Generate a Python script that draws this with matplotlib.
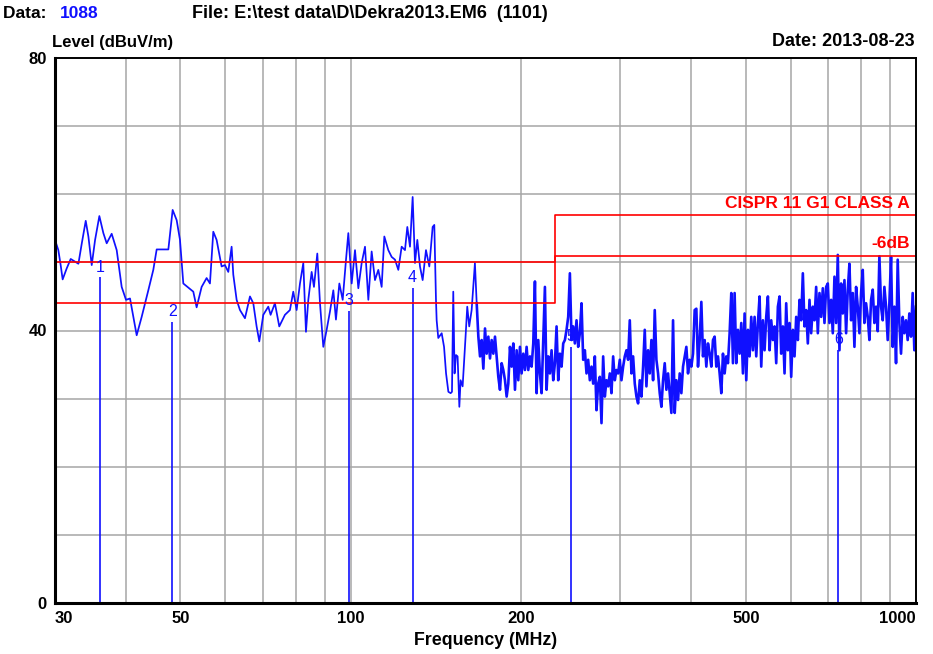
import numpy as np
import matplotlib
matplotlib.use("Agg")
import matplotlib.pyplot as plt

# ---------------- data ----------------
# low band trace (MHz, dBuV/m)
low_band = [
    (30.0, 53.3), (30.41, 51.8), (30.70, 49.6), (30.95, 47.5), (31.46, 49.1), (31.98, 50.5),
    (32.55, 50.1), (33.0, 49.8), (33.46, 52.8), (34.0, 56.1), (34.37, 53.8), (34.84, 49.6),
    (35.32, 53.3), (35.94, 56.8), (36.53, 54.3), (37.03, 52.8), (37.79, 54.2), (38.57, 51.8),
    (39.36, 46.4), (40.06, 44.5), (40.72, 44.7), (41.28, 42.0), (41.84, 39.3), (42.70, 42.0),
    (43.87, 45.9), (44.77, 48.9), (45.39, 51.9), (47.60, 51.9), (48.44, 57.7), (49.24, 56.2),
    (49.91, 53.3), (50.59, 46.9), (51.63, 46.3), (52.69, 45.7), (53.41, 43.4), (54.51, 46.4),
    (55.63, 47.7), (56.39, 46.9), (57.16, 54.5), (57.94, 53.3), (59.13, 49.4), (59.94, 49.6),
    (60.76, 48.6), (61.59, 52.3), (62.01, 48.2), (62.86, 44.5), (63.72, 43.0), (65.03, 41.8),
    (66.37, 45.0), (67.27, 44.0), (68.19, 40.6), (68.94, 38.4), (70.07, 42.3), (71.51, 43.5),
    (72.19, 42.3), (73.47, 44.0), (74.78, 40.6), (76.53, 42.3), (78.10, 43.0), (79.17, 45.7),
    (80.26, 43.0), (81.36, 46.9), (82.47, 49.9), (83.37, 39.8), (84.17, 44.5), (85.32, 48.6),
    (86.13, 46.4), (87.31, 51.3), (88.27, 44.0), (89.47, 37.6), (90.70, 40.1), (91.94, 42.8),
    (93.20, 45.9), (94.20, 41.6), (95.51, 46.9), (96.82, 44.5), (98.14, 50.4), (99.07, 54.3),
    (100.43, 46.9), (101.80, 51.8), (103.19, 46.2), (104.60, 49.9), (106.03, 52.3), (107.48, 44.5),
    (108.94, 51.6), (110.43, 47.4), (111.94, 48.9), (113.47, 46.4), (114.71, 53.8), (116.59, 51.8),
    (118.19, 50.8), (119.80, 50.4), (121.44, 48.9), (123.10, 52.3), (124.78, 51.8), (125.97, 55.2),
    (127.35, 52.3), (128.74, 59.6), (129.97, 49.9), (131.21, 53.3), (132.64, 49.4), (134.09, 47.4),
    (135.92, 51.8), (137.78, 49.4), (139.66, 55.2), (140.61, 55.5), (141.57, 44.5),
    (141.96, 41.5), (142.9, 38.9), (144.9, 39.6), (146.3, 37.6), (147.5, 33.7), (148.9, 31.0),
    (150.3, 30.8), (151.1, 31.0), (151.9, 45.7), (152.7, 33.7), (153.6, 36.4), (154.6, 36.2),
    (155.7, 28.8), (156.5, 32.7), (157.8, 31.8), (158.7, 35.2), (159.7, 39.1), (160.8, 43.5),
    (162.1, 40.6), (163.7, 43.0), (164.8, 46.4), (165.9, 49.9),
]

# high band: receiver sweep on a log grid from 167.1 MHz to 1000 MHz
high_start_mhz = 167.1
high_stop_mhz = 1000.0
high_levels = [
    44.0, 39.1, 36.2, 38.6, 34.4, 40.3, 36.6, 39.1, 35.9, 38.6, 36.6, 39.1, 36.2, 33.2, 31.3, 35.2,
    34.2, 32.7, 30.3, 32.2, 37.6, 34.7, 38.1, 31.3, 37.1, 32.7, 37.6, 33.7, 36.6, 34.2, 37.6, 34.2,
    36.2, 34.7, 38.1, 47.2, 30.8, 38.6, 33.7, 30.8, 38.6, 46.4, 31.3, 36.2, 33.7, 37.1, 32.7, 35.2,
    40.6, 32.7, 36.6, 34.7, 38.1, 38.6, 40.1, 42.0, 48.4, 38.6, 40.6, 38.1, 41.5, 37.6, 39.6, 44.0,
    35.7, 37.1, 33.7, 35.7, 32.7, 34.7, 32.2, 36.2, 28.3, 32.2, 33.2, 26.4, 36.2, 30.3, 32.7, 31.8,
    33.7, 30.8, 36.2, 32.7, 34.2, 33.7, 35.7, 32.7, 34.7, 36.2, 37.1, 35.7, 41.5, 33.7, 36.2, 32.2,
    30.3, 29.3, 32.7, 30.3, 34.7, 40.1, 31.8, 37.1, 33.7, 38.6, 32.7, 43.0, 35.7, 33.7, 30.8, 28.8,
    32.7, 35.2, 31.3, 33.7, 30.8, 27.9, 41.5, 27.9, 32.7, 29.8, 33.7, 30.8, 34.7, 36.2, 37.6, 33.7,
    35.7, 34.7, 36.6, 43.0, 43.2, 34.7, 38.6, 44.2, 36.2, 38.6, 34.7, 38.1, 36.6, 34.7, 38.6, 39.1,
    34.7, 36.2, 33.7, 30.8, 36.6, 33.7, 36.2, 35.2, 39.6, 45.5, 35.2, 45.5, 35.2, 40.1, 36.6, 41.1,
    33.7, 42.5, 32.7, 40.1, 36.2, 42.0, 37.1, 42.0, 36.2, 41.1, 45.0, 34.7, 41.5, 37.1, 42.0, 45.0,
    37.1, 41.5, 38.6, 40.6, 35.2, 43.5, 45.0, 36.6, 40.6, 33.7, 44.0, 37.1, 41.1, 33.2, 40.1, 36.2,
    42.0, 38.6, 44.5, 41.5, 48.4, 40.6, 43.0, 38.1, 44.5, 39.6, 43.5, 41.5, 46.4, 39.6, 45.5, 42.0,
    46.2, 41.1, 46.4, 46.9, 41.1, 44.5, 39.6, 47.9, 41.1, 51.1, 37.1, 46.9, 42.5, 47.4, 39.6, 46.0,
    49.8, 41.5, 45.5, 37.6, 46.4, 43.5, 39.6, 45.5, 48.9, 41.1, 44.0, 42.0, 38.6, 44.5, 46.0, 41.1,
    43.5, 39.9, 50.9, 43.5, 41.5, 46.4, 43.5, 38.6, 44.0, 50.8, 37.6, 43.5, 35.2, 50.4, 41.1, 36.6,
    42.0, 39.6, 41.5, 38.6, 42.5, 39.1, 45.5, 37.1, 43.5,
]

# limit lines (CISPR 11 Group 1 Class A) and -6 dB margin
limit_freq = [30, 230, 230, 1000]
limit_level = [50, 50, 57, 57]
margin_level = [44, 44, 51, 51]

# markers
marker_ids = ["1", "2", "3", "4", "5", "6"]
marker_freq = [36.0, 48.4, 99.3, 128.7, 245.1, 728.6]
marker_level = [47.8, 41.3, 42.9, 46.3, 37.6, 37.1]

x_ticks = [30, 50, 100, 200, 500, 1000]
x_grid = [30, 40, 50, 60, 70, 80, 90, 100, 200, 300, 400, 500, 600, 700, 800, 900, 1000]
y_ticks = [0, 40, 80]
y_grid = [10, 20, 30, 40, 50, 60, 70]

# ---------------- plot ----------------
BLUE = "#1010ff"
RED = "#ff0000"
GRID = "#a6a6a6"
FONT = ["Liberation Sans Narrow", "Liberation Sans", "DejaVu Sans"]
plt.rcParams["font.family"] = FONT

fig = plt.figure(figsize=(9.33, 6.54), dpi=100)
ax = fig.add_axes([55 / 933, 1 - 603 / 654, 861 / 933, 545 / 654])
ax.set_xscale("log")
ax.set_xlim(30, 1000)
ax.set_ylim(0, 80)

for g in x_grid:
    ax.axvline(g, color=GRID, lw=1.1, zorder=1)
for g in y_grid:
    ax.axhline(g, color=GRID, lw=1.1, zorder=1)

f_lo = [p[0] for p in low_band]
l_lo = [p[1] for p in low_band]
f_hi = np.geomspace(high_start_mhz, high_stop_mhz, len(high_levels))
ax.plot(f_lo + [f_hi[0]], l_lo + [high_levels[0]], color=BLUE, lw=1.25, zorder=3)
ax.plot(f_hi, high_levels, color=BLUE, lw=1.9, zorder=3)

ax.plot(limit_freq, limit_level, color=RED, lw=1.2, zorder=4)
ax.plot(limit_freq, margin_level, color=RED, lw=1.2, zorder=4)

ax.vlines(marker_freq, 0, marker_level, color=BLUE, lw=1.2, zorder=3)
for mid, mf, ml in zip(marker_ids, marker_freq, marker_level):
    ax.annotate(mid, (mf, ml), xytext=(0, 2), textcoords="offset points",
                ha="center", va="bottom", color=BLUE, fontsize=11.5,
                family=["Liberation Sans", "DejaVu Sans"], zorder=5)

ax.text(0.993, 57.6, "CISPR 11 G1 CLASS A", transform=ax.get_yaxis_transform(),
        ha="right", va="bottom", color=RED, fontsize=12.5, fontweight="bold")
ax.text(0.993, 51.6, "-6dB", transform=ax.get_yaxis_transform(),
        ha="right", va="bottom", color=RED, fontsize=12.5, fontweight="bold")

# frame
for side in ["left", "bottom"]:
    ax.spines[side].set_linewidth(2.2)
for side in ["top", "right"]:
    ax.spines[side].set_linewidth(1.4)
for s in ax.spines.values():
    s.set_color("black")
    s.set_zorder(6)

ax.set_xticks(x_ticks)
ax.set_xticklabels([str(t) for t in x_ticks])
ax.xaxis.set_minor_locator(matplotlib.ticker.NullLocator())
ax.set_yticks(y_ticks)
ax.set_yticklabels([str(t) for t in y_ticks])
ax.tick_params(length=0, labelsize=12, pad=6)
for lab in ax.get_xticklabels() + ax.get_yticklabels():
    lab.set_fontweight("bold")
xl = ax.get_xticklabels()
xl[0].set_horizontalalignment("left")
xl[-1].set_horizontalalignment("right")

ax.set_xlabel("Frequency (MHz)", fontsize=12.8, fontweight="bold", labelpad=4)

fig.text(3 / 933, 1 - 14 / 654, "Data: ", fontsize=12.5, fontweight="bold", va="center", ha="left")
fig.text(60 / 933, 1 - 14 / 654, "1088", fontsize=12.5, fontweight="bold", va="center", ha="left", color="#1010ff")
fig.text(192 / 933, 1 - 14 / 654, "File: E:\\test data\\D\\Dekra2013.EM6  (1101)", fontsize=13,
         fontweight="bold", va="center", ha="left")
fig.text(52 / 933, 1 - 42 / 654, "Level (dBuV/m)", fontsize=12, fontweight="bold", va="center", ha="left")
fig.text(915 / 933, 1 - 42 / 654, "Date: 2013-08-23", fontsize=13, fontweight="bold", va="center", ha="right")

fig.savefig("out.png", dpi=100, facecolor="white")
